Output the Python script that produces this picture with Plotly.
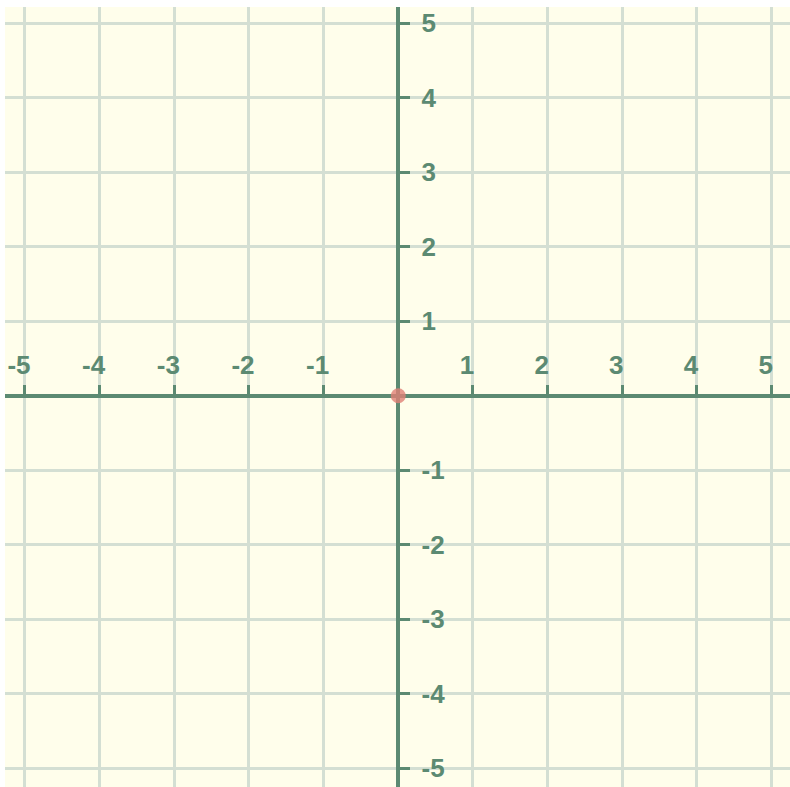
import plotly.graph_objects as go

# Data
x_ticks = [-5, -4, -3, -2, -1, 1, 2, 3, 4, 5]
x_tick_labels = ["-5", "-4", "-3", "-2", "-1", "1", "2", "3", "4", "5"]
y_ticks = [-5, -4, -3, -2, -1, 1, 2, 3, 4, 5]
y_tick_labels = ["-5", "-4", "-3", "-2", "-1", "1", "2", "3", "4", "5"]
point_x = [0]
point_y = [0]

x_range = [-5.267, 5.246]
y_range = [-5.251, 5.219]

AXIS = "#5c8a72"
GRID = "#d4dfd3"
BG = "#fffeeb"

fig = go.Figure()
fig.add_trace(go.Scatter(
    x=point_x, y=point_y, mode="markers",
    marker=dict(size=15, color="rgba(224,128,118,0.8)", line=dict(width=0)),
    hoverinfo="skip", showlegend=False,
))

xpos = (0 - y_range[0]) / (y_range[1] - y_range[0])
ypos = (0 - x_range[0]) / (x_range[1] - x_range[0])

fig.update_layout(
    width=790, height=787,
    margin=dict(l=5, r=0, t=7, b=0, autoexpand=False),
    paper_bgcolor="white",
    plot_bgcolor=BG,
    showlegend=False,
    xaxis=dict(
        range=x_range, tickvals=x_ticks, ticktext=x_tick_labels,
        side="top", anchor="free", position=xpos, automargin=False,
        showline=True, linecolor=AXIS, linewidth=4,
        ticks="outside", ticklen=9, tickwidth=3, tickcolor=AXIS,
        showgrid=True, gridcolor=GRID, gridwidth=3,
        zeroline=False, layer="below traces",
        tickfont=dict(family="Liberation Sans", size=26, color=AXIS, weight="bold"),
        ticklabelshift=-6, ticklabelstandoff=0,
        fixedrange=True,
    ),
    yaxis=dict(
        range=y_range, tickvals=y_ticks, ticktext=y_tick_labels,
        side="right", anchor="free", position=ypos, automargin=False,
        showline=True, linecolor=AXIS, linewidth=4,
        ticks="outside", ticklen=10, tickwidth=3, tickcolor=AXIS,
        showgrid=True, gridcolor=GRID, gridwidth=3,
        zeroline=False, layer="below traces",
        tickfont=dict(family="Liberation Sans", size=26, color=AXIS, weight="bold"),
        ticklabelstandoff=6,
        fixedrange=True,
    ),
)

fig.write_html(
    "out.html",
    config={"displayModeBar": False},
    post_script="document.body.style.margin='0';document.body.style.padding='0';",
)
